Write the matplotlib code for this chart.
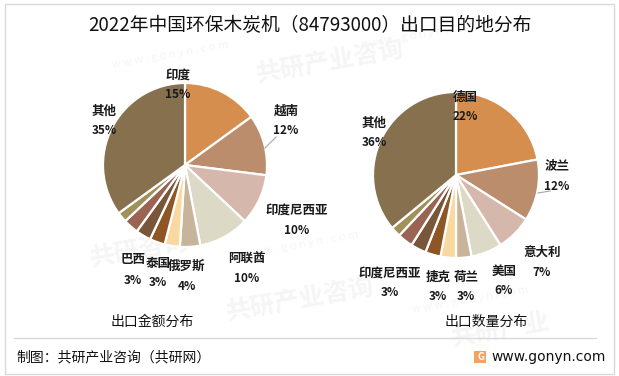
import matplotlib
matplotlib.use("Agg")
import matplotlib.pyplot as plt
from matplotlib.patches import Rectangle

plt.rcParams['font.family'] = ['Noto Sans CJK SC', 'DejaVu Sans']

# ---------------- data ----------------
title = "2022年中国环保木炭机（84793000）出口目的地分布"
left_caption = "出口金额分布"
right_caption = "出口数量分布"
footer_left = "制图：共研产业咨询（共研网）"
footer_right = "www.gonyn.com"

left_names = ["印度", "越南", "印度尼西亚", "阿联酋", "俄罗斯", "泰国", "巴西", "", "", "", "其他"]
left_values = [15, 12, 10, 10, 4, 3, 3, 3, 3, 2, 35]

right_names = ["德国", "波兰", "意大利", "美国", "荷兰", "捷克", "印度尼西亚", "", "", "", "其他"]
right_values = [22, 12, 7, 6, 3, 3, 3, 3, 3, 2, 36]

slice_colors = ["#D68E4F", "#BC8D6C", "#D6B7AB", "#DDD9C7", "#C7B49A", "#F9D9A0",
                "#8F5625", "#7A5638", "#9B6353", "#A19159", "#86704E"]

# ---------------- layout (pixels, y from top) ----------------
W, H = 619, 376
left_center, left_radius = (185, 165), 82
right_center, right_radius = (456, 175), 83

left_label_pos = [(178, 75), (286, 111), (297, 210), (247, 258), (187, 266), (158, 263),
                  (133, 260), None, None, None, (104, 111)]
right_label_pos = [(465, 97), (557, 166), (542, 252), (504, 271), (466, 277), (438, 277),
                   (390, 273), None, None, None, (374, 123)]
label_gap = 20

fig = plt.figure(figsize=(W / 100, H / 100), dpi=100)
ax = fig.add_axes([0, 0, 1, 1])


def Y(y):
    return H - y


# watermarks (very faint)
wm_color = "#F5F5F5"
for (x, y, s, fs) in [(330, 62, "共研产业咨询", 18), (140, 250, "共研咨询", 18),
                      (300, 300, "共研产业咨询", 18), (500, 330, "共研产业", 18)]:
    ax.text(x, Y(y), s, fontsize=fs, color=wm_color, rotation=10, ha='center',
            va='center', fontweight='bold', zorder=0)
for (x, y) in [(170, 55), (420, 35), (300, 245), (470, 300)]:
    ax.text(x, Y(y), "w w w . g o n y n . c o m", fontsize=8, color=wm_color,
            rotation=10, ha='center', va='center', zorder=0)


def draw_pie(values, names, center, radius, label_pos):
    ax.pie(values, colors=slice_colors, startangle=90, counterclock=False,
           center=(center[0], Y(center[1])), radius=radius, frame=True,
           wedgeprops=dict(edgecolor='white', linewidth=1.6))
    total = sum(values)
    for v, n, p in zip(values, names, label_pos):
        if p is None or not n:
            continue
        pct = f"{round(v / total * 100):d}%"
        ax.text(p[0], Y(p[1]), n, fontsize=9, fontweight='bold', ha='center',
                va='center', color='#1a1a1a', zorder=5)
        ax.text(p[0], Y(p[1] + label_gap), pct, fontsize=8.5, fontweight='bold',
                ha='center', va='center', color='#1a1a1a', zorder=5)


draw_pie(left_values, left_names, left_center, left_radius, left_label_pos)
draw_pie(right_values, right_names, right_center, right_radius, right_label_pos)

# leader lines
ax.plot([265, 276], [Y(148), Y(137)], color='#A6A6A6', lw=0.8)
ax.plot([538, 550], [Y(193), Y(191)], color='#A6A6A6', lw=0.8)

# title and captions
ax.text(310, Y(26), title, fontsize=13.5, ha='center', va='center', color='#111111')
ax.text(152, Y(322), left_caption, fontsize=10, ha='center', va='center', color='#111111')
ax.text(486, Y(322), right_caption, fontsize=10, ha='center', va='center', color='#111111')

# separator and footer
ax.plot([14, 596], [Y(338), Y(338)], color='#D9D9D9', lw=1)
ax.text(16, Y(357), footer_left, fontsize=10, ha='left', va='center', color='#111111')
ax.add_patch(Rectangle((474, Y(363)), 12, 12, facecolor='#F6A25E', edgecolor='none'))
ax.text(481, Y(357), "G", fontsize=7, color='white', ha='center', va='center',
        fontweight='bold')
ax.text(491, Y(357), footer_right, fontsize=10, ha='left', va='center', color='#111111',
        family=['DejaVu Sans'])

# outer border
ax.add_patch(Rectangle((4.5, Y(373.5)), 609, 370, facecolor='none',
                       edgecolor='#D9D9D9', lw=1))

ax.set_xlim(0, W)
ax.set_ylim(0, H)
ax.set_aspect('auto')
ax.axis('off')

fig.savefig("out.png", dpi=100)
